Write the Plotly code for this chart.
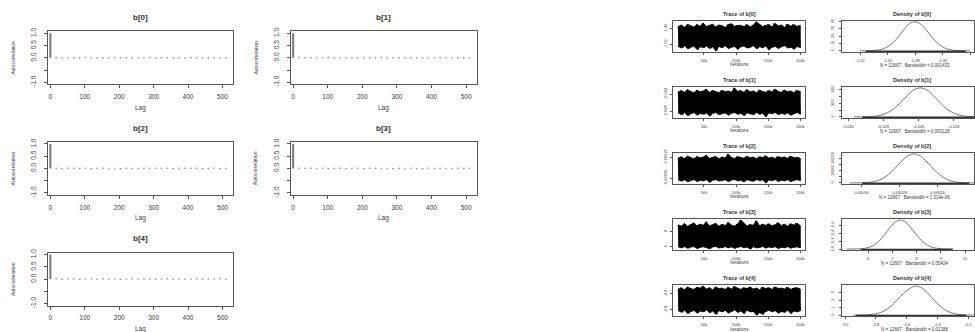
import numpy as np
import plotly.graph_objects as go

W, H = 975, 332
FONT = "Liberation Sans, Arial, sans-serif"
LINE = "#555555"
TXT = "#3a3a3a"

params = ["b[0]", "b[1]", "b[2]", "b[3]", "b[4]"]

# ---------------- autocorrelation (lag axis in iterations) ----------------
acf_lags = list(range(0, 511, 17))
acf_b0 = [1.0, 0.012, -0.004, 0.007, -0.010, 0.003, 0.009, -0.006, 0.002, -0.011, 0.005,
          0.008, -0.003, 0.006, -0.009, 0.004, -0.002, 0.010, -0.007, 0.001, 0.006,
          -0.008, 0.003, -0.005, 0.009, -0.001, 0.004, -0.006, 0.007, -0.003, 0.002]
acf_b1 = [1.0, 0.015, 0.002, -0.008, 0.006, -0.004, 0.011, -0.009, 0.003, 0.007, -0.002,
          -0.010, 0.005, 0.001, -0.006, 0.009, -0.003, 0.004, -0.011, 0.008, 0.002,
          -0.005, 0.006, -0.007, 0.003, 0.010, -0.004, 0.001, -0.008, 0.005, -0.002]
acf_b2 = [1.0, 0.009, -0.007, 0.004, 0.011, -0.003, 0.006, -0.010, 0.002, 0.008, -0.005,
          0.003, -0.009, 0.007, 0.001, -0.004, 0.010, -0.006, 0.005, -0.002, 0.008,
          -0.011, 0.004, 0.006, -0.003, 0.009, -0.007, 0.002, 0.005, -0.008, 0.003]
acf_b3 = [1.0, 0.011, -0.005, 0.008, -0.002, 0.006, -0.009, 0.003, 0.010, -0.007, 0.001,
          0.005, -0.011, 0.004, 0.007, -0.003, 0.002, -0.008, 0.009, -0.004, 0.006,
          0.001, -0.010, 0.005, -0.002, 0.008, -0.006, 0.003, 0.010, -0.005, 0.004]
acf_b4 = [1.0, 0.013, -0.006, 0.004, 0.009, -0.008, 0.002, 0.007, -0.004, 0.011, -0.002,
          0.005, -0.010, 0.003, 0.008, -0.005, 0.001, 0.006, -0.009, 0.004, 0.010,
          -0.003, 0.007, -0.006, 0.002, 0.009, -0.007, 0.005, -0.001, 0.012, -0.004]
acf_values = [acf_b0, acf_b1, acf_b2, acf_b3, acf_b4]

acf_lag_ticks = [0, 100, 200, 300, 400, 500]
acf_y_ticks = [-1.0, -0.5, 0.0, 0.5, 1.0]
acf_y_ticktext = ["-1.0", "", "0.0", "0.5", "1.0"]

# ---------------- chain traces: per-bin high / low of the sampled values ----------------
n_samples = 12667
iter_first, iter_last = 10001, 200000

trace_hi_b0 = [-1.455, -1.451, -1.457, -1.449, -1.453, -1.456, -1.450, -1.454, -1.446, -1.455,
               -1.452, -1.449, -1.456, -1.451, -1.453, -1.457, -1.450, -1.448, -1.454, -1.452,
               -1.452, -1.455, -1.450, -1.456, -1.451, -1.443, -1.449, -1.455, -1.452, -1.450,
               -1.456, -1.447, -1.453, -1.451, -1.457, -1.449, -1.454, -1.450, -1.455, -1.452]
trace_lo_b0 = [-1.505, -1.509, -1.503, -1.511, -1.507, -1.504, -1.513, -1.506, -1.508, -1.504,
               -1.510, -1.506, -1.516, -1.505, -1.508, -1.503, -1.510, -1.507, -1.505, -1.512,
               -1.506, -1.504, -1.509, -1.507, -1.503, -1.511, -1.506, -1.508, -1.504, -1.514,
               -1.507, -1.505, -1.510, -1.506, -1.503, -1.509, -1.507, -1.512, -1.505, -1.508]
trace_hi_b1 = [-0.0235, -0.0232, -0.0236, -0.0230, -0.0234, -0.0237, -0.0231, -0.0235, -0.0233, -0.0229,
               -0.0236, -0.0232, -0.0234, -0.0237, -0.0231, -0.0235, -0.0233, -0.0236, -0.0226, -0.0234,
               -0.0232, -0.0236, -0.0230, -0.0235, -0.0233, -0.0237, -0.0231, -0.0234, -0.0236, -0.0232,
               -0.0235, -0.0229, -0.0234, -0.0236, -0.0231, -0.0235, -0.0233, -0.0237, -0.0232, -0.0234]
trace_lo_b1 = [-0.0283, -0.0287, -0.0282, -0.0289, -0.0285, -0.0282, -0.0288, -0.0284, -0.0286, -0.0283,
               -0.0290, -0.0284, -0.0282, -0.0287, -0.0285, -0.0283, -0.0288, -0.0284, -0.0282, -0.0286,
               -0.0284, -0.0289, -0.0283, -0.0285, -0.0287, -0.0282, -0.0286, -0.0284, -0.0292, -0.0283,
               -0.0285, -0.0282, -0.0287, -0.0284, -0.0286, -0.0283, -0.0288, -0.0285, -0.0282, -0.0286]
trace_hi_b2 = [-0.0002510, -0.0002485, -0.0002520, -0.0002470, -0.0002500, -0.0002525, -0.0002480, -0.0002505,
               -0.0002490, -0.0002455, -0.0002515, -0.0002495, -0.0002478, -0.0002522, -0.0002488, -0.0002508,
               -0.0002430, -0.0002500, -0.0002518, -0.0002482, -0.0002496, -0.0002512, -0.0002475, -0.0002505,
               -0.0002490, -0.0002523, -0.0002484, -0.0002500, -0.0002465, -0.0002510, -0.0002492, -0.0002518,
               -0.0002480, -0.0002503, -0.0002488, -0.0002515, -0.0002472, -0.0002506, -0.0002495, -0.0002512]
trace_lo_b2 = [-0.0002935, -0.0002960, -0.0002928, -0.0002972, -0.0002945, -0.0002930, -0.0002965, -0.0002940,
               -0.0002955, -0.0002932, -0.0002980, -0.0002942, -0.0002930, -0.0002958, -0.0002946, -0.0002934,
               -0.0002968, -0.0002940, -0.0002928, -0.0002955, -0.0002943, -0.0002975, -0.0002932, -0.0002950,
               -0.0002962, -0.0002930, -0.0002948, -0.0002938, -0.0002995, -0.0002935, -0.0002952, -0.0002929,
               -0.0002966, -0.0002941, -0.0002957, -0.0002933, -0.0002970, -0.0002944, -0.0002930, -0.0002950]
trace_hi_b3 = [8.85, 8.70, 9.02, 8.66, 8.90, 9.10, 8.74, 8.95, 8.80, 9.25,
               8.72, 8.88, 9.05, 8.68, 8.92, 8.78, 9.15, 8.83, 8.70, 8.97,
               9.48, 9.08, 8.69, 8.90, 8.81, 9.38, 8.73, 8.94, 8.79, 9.00,
               8.71, 8.87, 9.12, 8.75, 8.93, 8.68, 8.99, 8.82, 9.06, 8.77]
trace_lo_b3 = [5.98, 5.85, 6.04, 5.80, 5.95, 6.02, 5.78, 5.92, 6.00, 5.88,
               5.74, 5.96, 6.03, 5.83, 5.90, 6.01, 5.86, 5.97, 5.79, 5.93,
               6.02, 5.87, 5.95, 5.70, 5.99, 5.84, 5.91, 6.03, 5.82, 5.96,
               5.89, 6.00, 5.76, 5.94, 5.87, 6.01, 5.81, 5.93, 5.98, 5.86]
trace_hi_b4 = [-2.28, -2.25, -2.30, -2.23, -2.27, -2.29, -2.24, -2.26, -2.21, -2.28,
               -2.25, -2.30, -2.23, -2.27, -2.26, -2.29, -2.24, -2.28, -2.22, -2.26,
               -2.29, -2.25, -2.27, -2.23, -2.28, -2.26, -2.30, -2.24, -2.27, -2.25,
               -2.29, -2.23, -2.27, -2.26, -2.28, -2.24, -2.29, -2.26, -2.25, -2.28]
trace_lo_b4 = [-2.82, -2.86, -2.80, -2.89, -2.84, -2.81, -2.88, -2.83, -2.85, -2.80,
               -2.87, -2.83, -2.91, -2.82, -2.85, -2.81, -2.88, -2.84, -2.80, -2.86,
               -2.83, -2.89, -2.81, -2.85, -2.84, -2.93, -2.87, -2.91, -2.84, -2.81,
               -2.85, -2.82, -2.88, -2.84, -2.86, -2.81, -2.89, -2.83, -2.85, -2.82]
trace_hi = [trace_hi_b0, trace_hi_b1, trace_hi_b2, trace_hi_b3, trace_hi_b4]
trace_lo = [trace_lo_b0, trace_lo_b1, trace_lo_b2, trace_lo_b3, trace_lo_b4]

iter_ticks = [50000, 100000, 150000, 200000]
trace_y_ticks = [[-1.50, -1.46],
                 [-0.028, -0.024],
                 [-0.00029, -0.00025],
                 [6, 8],
                 [-2.8, -2.4]]
trace_y_ticktext = [["-1.50", "-1.46"],
                    ["-0.028", "-0.024"],
                    ["-0.00029", "-0.00025"],
                    ["6", "8"],
                    ["-2.8", "-2.4"]]

# ---------------- kernel density estimates ----------------
dens_x_b0 = [-1.520, -1.516, -1.512, -1.508, -1.504, -1.500, -1.496, -1.492, -1.488, -1.484, -1.480,
             -1.476, -1.472, -1.468, -1.464, -1.460, -1.456, -1.452, -1.448, -1.444, -1.440]
dens_y_b0 = [0.02, 0.07, 0.26, 0.83, 2.31, 5.52, 11.3, 19.6, 29.3, 37.1, 39.6,
             36.5, 28.7, 19.2, 11.0, 5.31, 2.19, 0.76, 0.22, 0.06, 0.01]
dens_x_b1 = [-0.02966, -0.02928, -0.02891, -0.02853, -0.02816, -0.02778, -0.02740, -0.02703, -0.02665,
             -0.02628, -0.02590, -0.02552, -0.02515, -0.02477, -0.02440, -0.02402, -0.02364, -0.02327,
             -0.02289, -0.02252, -0.02214]
dens_y_b1 = [0.1, 0.7, 2.7, 8.6, 24.5, 58.9, 120.3, 209.0, 310.5, 393.0, 423.1,
             390.2, 305.9, 204.1, 116.2, 56.3, 23.2, 8.1, 2.5, 0.6, 0.1]
dens_x_b2 = [-0.0003061, -0.0003027, -0.0002993, -0.0002959, -0.0002925, -0.0002891, -0.0002857,
             -0.0002823, -0.0002789, -0.0002755, -0.0002721, -0.0002687, -0.0002653, -0.0002619,
             -0.0002585, -0.0002551, -0.0002517, -0.0002483, -0.0002449, -0.0002415, -0.0002381]
dens_y_b2 = [12, 75, 290, 951, 2690, 6470, 13250, 23100, 34300, 43500, 46800,
             43100, 33900, 22600, 12900, 6280, 2600, 915, 276, 70, 12]
dens_x_b3 = [5.12, 5.34, 5.56, 5.78, 6.00, 6.22, 6.44, 6.66, 6.88, 7.10, 7.32,
             7.54, 7.76, 7.98, 8.20, 8.42, 8.64, 8.86, 9.08, 9.30, 9.52]
dens_y_b3 = [0.0002, 0.0008, 0.0035, 0.0120, 0.0360, 0.0890, 0.1900, 0.3420, 0.5180, 0.6650, 0.7240,
             0.6760, 0.5380, 0.3660, 0.2150, 0.1080, 0.0460, 0.0170, 0.0055, 0.0015, 0.0003]
dens_x_b4 = [-2.946, -2.905, -2.864, -2.824, -2.783, -2.742, -2.701, -2.660, -2.620, -2.579, -2.538,
             -2.497, -2.456, -2.416, -2.375, -2.334, -2.293, -2.252, -2.212, -2.171, -2.130]
dens_y_b4 = [0.001, 0.007, 0.028, 0.090, 0.250, 0.600, 1.200, 2.050, 2.900, 3.560, 3.880,
             3.600, 2.820, 1.880, 1.070, 0.520, 0.215, 0.075, 0.023, 0.006, 0.001]
dens_x = [dens_x_b0, dens_x_b1, dens_x_b2, dens_x_b3, dens_x_b4]
dens_y = [dens_y_b0, dens_y_b1, dens_y_b2, dens_y_b3, dens_y_b4]
bandwidths = ["0.001433", "0.000128", "1.314e-06", "0.05424", "0.01388"]

dens_x_range = [[-1.5331, -1.4371], [-0.03034, -0.02286], [-0.000310, -0.0002405],
                [4.928, 10.371], [-3.0195, -2.161]]
dens_x_ticks = [[-1.52, -1.50, -1.48, -1.46, -1.44],
                [-0.030, -0.028, -0.026, -0.024],
                [-0.00030, -0.00028, -0.00026],
                [6, 7, 8, 9, 10],
                [-3.0, -2.8, -2.6, -2.4, -2.2]]
dens_x_ticktext = [["-1.52", "-1.50", "-1.48", "-1.46", "-1.44"],
                   ["-0.030", "-0.028", "-0.026", "-0.024"],
                   ["-0.00030", "-0.00028", "-0.00026"],
                   ["6", "7", "8", "9", "10"],
                   ["-3.0", "-2.8", "-2.6", "-2.4", "-2.2"]]
dens_y_ticks = [[0, 10, 20, 30, 40],
                [0, 100, 200, 300, 400],
                [0, 10000, 20000, 30000, 40000],
                [0, 0.2, 0.4, 0.6],
                [0, 1, 2, 3]]
dens_y_ticktext = [["0", "10", "20", "30", "40"],
                   ["0", "", "200", "", "400"],
                   ["0", "", "20000", "", "40000"],
                   ["0.0", "0.2", "0.4", "0.6"],
                   ["0", "1", "2", "3"]]

# ---------------- figure assembly ----------------
fig = go.Figure()
layout_axes = {}
annotations = []
counter = [0]


def axis_style(size, ticklen, standoff):
    return dict(showline=True, mirror=True, linecolor=LINE, linewidth=1,
                ticks="outside", ticklen=ticklen, tickwidth=1, tickcolor=LINE,
                showgrid=False, zeroline=False, fixedrange=True,
                tickfont=dict(size=size, color=TXT, family=FONT),
                ticklabelstandoff=standoff)


def new_axes(frame, xkw, ykw):
    counter[0] += 1
    n = counter[0]
    sfx = "" if n == 1 else str(n)
    x0, x1, y0, y1 = frame
    layout_axes["xaxis" + sfx] = dict(domain=[x0 / W, x1 / W], anchor="y" + sfx, **xkw)
    layout_axes["yaxis" + sfx] = dict(domain=[1 - y1 / H, 1 - y0 / H], anchor="x" + sfx, **ykw)
    return "x" + sfx, "y" + sfx


def label(text, xp, yp, size, bold=False, angle=0, color=TXT):
    annotations.append(dict(
        text=f"<b>{text}</b>" if bold else text, x=xp / W, y=1 - yp / H,
        xref="paper", yref="paper", showarrow=False, xanchor="center", yanchor="middle",
        textangle=angle, font=dict(size=size, family=FONT, color=color)))


# autocorrelation panels (left block)
acf_frames = [(48, 233, 28, 82), (291, 477, 28, 82), (48, 233, 141, 195),
              (291, 477, 141, 195), (48, 233, 254, 308)]
for i, p in enumerate(params):
    x0, x1, y0, y1 = acf_frames[i]
    xk = axis_style(6.5, 3, 3)
    xk.update(range=[-7, 530], tickvals=acf_lag_ticks)
    yk = axis_style(6.5, 3, 5)
    yk.update(range=[-1.08, 1.08], tickvals=acf_y_ticks, ticktext=acf_y_ticktext, tickangle=-90)
    xa, ya = new_axes(acf_frames[i], xk, yk)
    vals = acf_values[i]
    bx, by = [], []
    for lag, v in zip(acf_lags, vals):
        bx += [lag, lag, None]
        by += [0, v, None]
    fig.add_trace(go.Scatter(x=bx, y=by, mode="lines", line=dict(color="#7a7a7a", width=2),
                             xaxis=xa, yaxis=ya, hoverinfo="skip", showlegend=False))
    fig.add_trace(go.Scatter(x=acf_lags[1:], y=vals[1:], mode="markers",
                             marker=dict(size=1.5, color="#9a9a9a", symbol="square"),
                             xaxis=xa, yaxis=ya, hoverinfo="skip", showlegend=False))
    cx = (x0 + x1) / 2
    label(p, cx, y0 - 14, 8, bold=True, color="#333333")
    label("Lag", cx, y1 + 24, 6.5)
    label("Autocorrelation", x0 - 35, (y0 + y1) / 2, 5, angle=-90)

# trace and density panels (right block)
for k, p in enumerate(params):
    top = 17 + 67.5 * k
    bot = top + 32
    hi, lo = trace_hi[k], trace_lo[k]
    vmin, vmax = min(lo), max(hi)
    pad = 0.04 * (vmax - vmin)

    xk = axis_style(4, 2, 2)
    xk.update(range=[2400, 207600], tickvals=iter_ticks)
    yk = axis_style(4, 2, 2)
    yk.update(range=[vmin - pad, vmax + pad], tickvals=trace_y_ticks[k],
              ticktext=trace_y_ticktext[k], tickangle=-90)
    xa, ya = new_axes((674, 806, top, bot), xk, yk)

    # envelope of the chain: upper extremes left to right, lower extremes back
    bins = np.linspace(iter_first, iter_last, len(hi))
    ex = list(bins) + list(bins[::-1])
    ey = list(hi) + list(lo[::-1])
    fig.add_trace(go.Scatter(x=ex, y=ey, mode="lines", fill="toself", fillcolor="black",
                             line=dict(color="black", width=0.8, simplify=False),
                             xaxis=xa, yaxis=ya, hoverinfo="skip", showlegend=False))
    # individual excursions within each bin
    zx = np.linspace(iter_first, iter_last, 2 * len(hi))
    zy = [v for pair in zip(hi, lo) for v in pair]
    fig.add_trace(go.Scatter(x=zx, y=zy, mode="lines",
                             line=dict(color="black", width=1, simplify=False),
                             xaxis=xa, yaxis=ya, hoverinfo="skip", showlegend=False))
    label(f"Trace of {p}", 740, top - 7, 5.5, bold=True, color="#333333")
    label("Iterations", 740, bot + 13, 4.5)

    dmax = max(dens_y[k])
    xk = axis_style(4, 2, 2)
    xk.update(range=dens_x_range[k], tickvals=dens_x_ticks[k], ticktext=dens_x_ticktext[k])
    yk = axis_style(4, 2, 4)
    yk.update(range=[-0.04 * dmax, 1.04 * dmax], tickvals=dens_y_ticks[k],
              ticktext=dens_y_ticktext[k], tickangle=-90)
    xa, ya = new_axes((843, 975, top, bot), xk, yk)
    fig.add_trace(go.Scatter(x=dens_x[k], y=dens_y[k], mode="lines",
                             line=dict(color="#777777", width=1, shape="spline"),
                             xaxis=xa, yaxis=ya, hoverinfo="skip", showlegend=False))
    # rug of the sampled values along the base of the density panel
    rug_y = -0.04 * dmax + 0.025 * 1.08 * dmax
    fig.add_trace(go.Scatter(x=[vmin, vmax], y=[rug_y, rug_y], mode="lines",
                             line=dict(color="#333333", width=1.5),
                             xaxis=xa, yaxis=ya, hoverinfo="skip", showlegend=False))
    label(f"Density of {p}", 913, top - 7, 5.5, bold=True, color="#333333")
    label(f"N = {n_samples}   Bandwidth = {bandwidths[k]}", 916, bot + 14, 4.5)

fig.update_layout(
    width=W, height=H, autosize=False,
    margin=dict(l=0, r=0, t=0, b=0),
    paper_bgcolor="white", plot_bgcolor="white",
    showlegend=False, annotations=annotations,
    font=dict(family=FONT, color=TXT),
    **layout_axes,
)

fig.write_html("out.html")
